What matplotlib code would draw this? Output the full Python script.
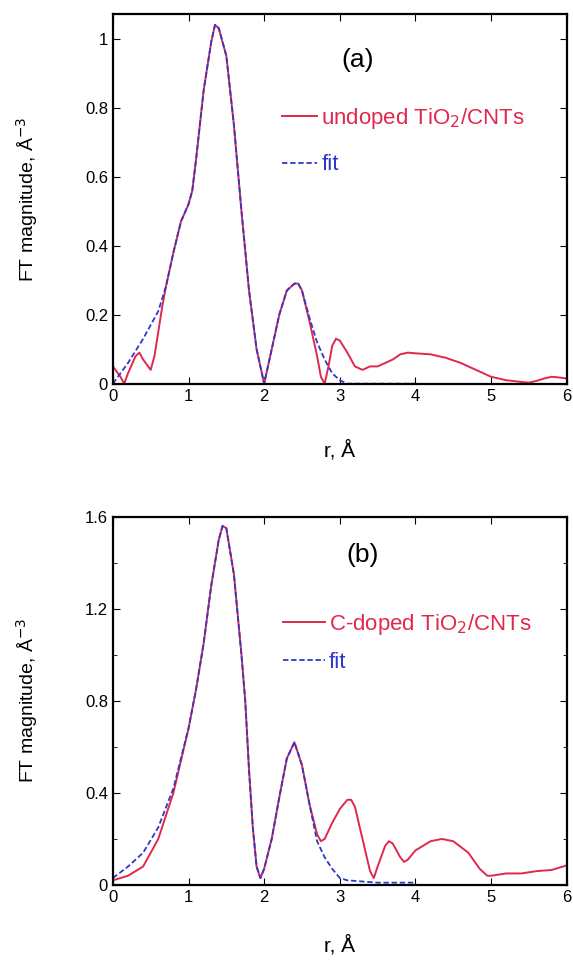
import numpy as np
import matplotlib
matplotlib.use('Agg')
import matplotlib.pyplot as plt
from matplotlib.ticker import MultipleLocator

plt.rcParams['font.family'] = ['Liberation Sans', 'DejaVu Sans']

# panel (a): undoped TiO2/CNTs
r_a = [0, 0.1, 0.15, 0.2, 0.3, 0.35, 0.4, 0.5, 0.55, 0.6, 0.65, 0.7, 0.8, 0.9, 1.0, 1.05,
       1.1, 1.2, 1.3, 1.35, 1.4, 1.5, 1.6, 1.7, 1.8, 1.9, 2.0, 2.1, 2.2, 2.3, 2.4, 2.45,
       2.5, 2.6, 2.7, 2.75, 2.8, 2.85, 2.9, 2.95, 3.0, 3.1, 3.2, 3.3, 3.4, 3.5, 3.6, 3.7,
       3.8, 3.9, 4.0, 4.2, 4.4, 4.6, 4.8, 5.0, 5.2, 5.4, 5.5, 5.6, 5.7, 5.8, 5.9, 6.0]
ft_a = [0.05, 0.02, 0.0, 0.03, 0.08, 0.09, 0.07, 0.04, 0.08, 0.15, 0.22, 0.28, 0.38, 0.47, 0.52, 0.56,
        0.65, 0.85, 0.99, 1.04, 1.03, 0.95, 0.75, 0.5, 0.27, 0.1, 0.0, 0.1, 0.2, 0.27, 0.29, 0.29,
        0.27, 0.18, 0.08, 0.02, 0.0, 0.05, 0.11, 0.13, 0.125, 0.09, 0.05, 0.04, 0.05, 0.05, 0.06, 0.07,
        0.085, 0.09, 0.088, 0.085, 0.075, 0.06, 0.04, 0.02, 0.01, 0.005, 0.003, 0.008, 0.015, 0.02, 0.018, 0.015]
rfit_a = [0, 0.2, 0.4, 0.6, 0.7, 0.8, 0.9, 1.0, 1.05, 1.1, 1.2, 1.3, 1.35, 1.4, 1.5, 1.6, 1.7,
          1.8, 1.9, 2.0, 2.1, 2.2, 2.3, 2.4, 2.45, 2.5, 2.6, 2.7, 2.8, 2.9, 3.0, 3.1, 3.5, 4.0]
fit_a = [0.0, 0.06, 0.13, 0.21, 0.28, 0.38, 0.47, 0.52, 0.56, 0.65, 0.85, 0.99, 1.04, 1.03, 0.95, 0.75, 0.5,
         0.27, 0.1, 0.0, 0.1, 0.2, 0.27, 0.29, 0.29, 0.27, 0.19, 0.12, 0.07, 0.03, 0.01, 0.0, 0.0, 0.0]

# panel (b): C-doped TiO2/CNTs
r_b = [0, 0.2, 0.4, 0.6, 0.8, 1.0, 1.1, 1.2, 1.3, 1.4, 1.45, 1.5, 1.6, 1.7, 1.75, 1.8, 1.85,
       1.9, 1.95, 2.0, 2.1, 2.2, 2.3, 2.4, 2.5, 2.6, 2.7, 2.75, 2.8, 2.9, 3.0, 3.1, 3.15, 3.2,
       3.3, 3.4, 3.45, 3.5, 3.6, 3.65, 3.7, 3.8, 3.85, 3.9, 4.0, 4.2, 4.35, 4.5, 4.7, 4.85,
       4.95, 5.0, 5.2, 5.4, 5.6, 5.8, 6.0]
ft_b = [0.02, 0.04, 0.08, 0.2, 0.4, 0.68, 0.85, 1.05, 1.3, 1.5, 1.56, 1.55, 1.35, 1.0, 0.8, 0.5, 0.25,
        0.08, 0.03, 0.07, 0.2, 0.38, 0.55, 0.62, 0.52, 0.35, 0.22, 0.19, 0.2, 0.27, 0.33, 0.37, 0.37, 0.34,
        0.2, 0.06, 0.03, 0.08, 0.17, 0.19, 0.18, 0.12, 0.1, 0.11, 0.15, 0.19, 0.2, 0.19, 0.14, 0.07,
        0.04, 0.04, 0.05, 0.05, 0.06, 0.065, 0.085]
rfit_b = [0, 0.2, 0.4, 0.6, 0.8, 1.0, 1.1, 1.2, 1.3, 1.4, 1.45, 1.5, 1.6, 1.7, 1.75, 1.8, 1.85,
          1.9, 1.95, 2.0, 2.1, 2.2, 2.3, 2.4, 2.5, 2.6, 2.7, 2.8, 2.9, 3.0, 3.1, 3.5, 4.0]
fit_b = [0.03, 0.08, 0.14, 0.25, 0.42, 0.68, 0.85, 1.05, 1.3, 1.5, 1.56, 1.55, 1.35, 1.0, 0.8, 0.5, 0.25,
         0.08, 0.03, 0.07, 0.2, 0.38, 0.55, 0.62, 0.52, 0.35, 0.19, 0.12, 0.07, 0.03, 0.02, 0.01, 0.01]

red = '#e0284e'
blue = '#3038c8'

fig = plt.figure(figsize=(5.73, 9.64), dpi=100)
ax1 = fig.add_axes([0.197, 0.602, 0.792, 0.383])
ax2 = fig.add_axes([0.197, 0.082, 0.792, 0.382])

panels = [
    # axis, data..., label, tag, ymax, major, minor, tag pos, legend pos, handle length,
    # legend row spacing, x-label y
    (ax1, r_a, ft_a, rfit_a, fit_a, 'undoped TiO$_2$/CNTs', '(a)', 1.07, 0.2, None,
     (0.54, 0.878), (0.372, 0.752), 1.6, 1.05, -0.18),
    (ax2, r_b, ft_b, rfit_b, fit_b, 'C-doped TiO$_2$/CNTs', '(b)', 1.6, 0.4, 0.2,
     (0.55, 0.897), (0.374, 0.742), 1.9, 0.7, -0.165),
]

for (ax, r, ft, rf, fit, lab, tag, ymax, major, minor, tagpos, legpos, hl, ls, xly) in panels:
    ax.plot(r, ft, color=red, lw=1.4, label=lab)
    ax.plot(rf, fit, color=blue, lw=1.3, ls=(0, (3, 1.5)), label='fit')
    ax.set_xlim(0, 6)
    ax.set_ylim(0, ymax)
    ax.xaxis.set_major_locator(MultipleLocator(1))
    ax.yaxis.set_major_locator(MultipleLocator(major))
    if minor:
        ax.yaxis.set_minor_locator(MultipleLocator(minor))
    ax.yaxis.set_major_formatter(plt.FuncFormatter(lambda v, p: ('%g' % round(v, 2))))
    ax.tick_params(which='both', direction='in', top=True, right=True, labelsize=12)
    ax.tick_params(which='major', length=5)
    ax.tick_params(which='minor', length=3)
    for s in ax.spines.values():
        s.set_linewidth(1.6)
    ax.set_xlabel('r, Å', fontsize=15, va='center')
    ax.set_ylabel('FT magnitude, Å$^{-3}$', fontsize=14, va='center')
    ax.xaxis.set_label_coords(0.5, xly)
    ax.yaxis.set_label_coords(-0.19, 0.5)
    ax.text(tagpos[0], tagpos[1], tag, transform=ax.transAxes, fontsize=19, ha='center', va='center')
    leg = ax.legend(loc='upper left', bbox_to_anchor=legpos, frameon=False, fontsize=16,
                    handlelength=hl, handletextpad=0.18, labelspacing=ls, borderaxespad=0,
                    borderpad=0)
    for t, c in zip(leg.get_texts(), [red, blue]):
        t.set_color(c)

fig.savefig('out.png', dpi=100)
